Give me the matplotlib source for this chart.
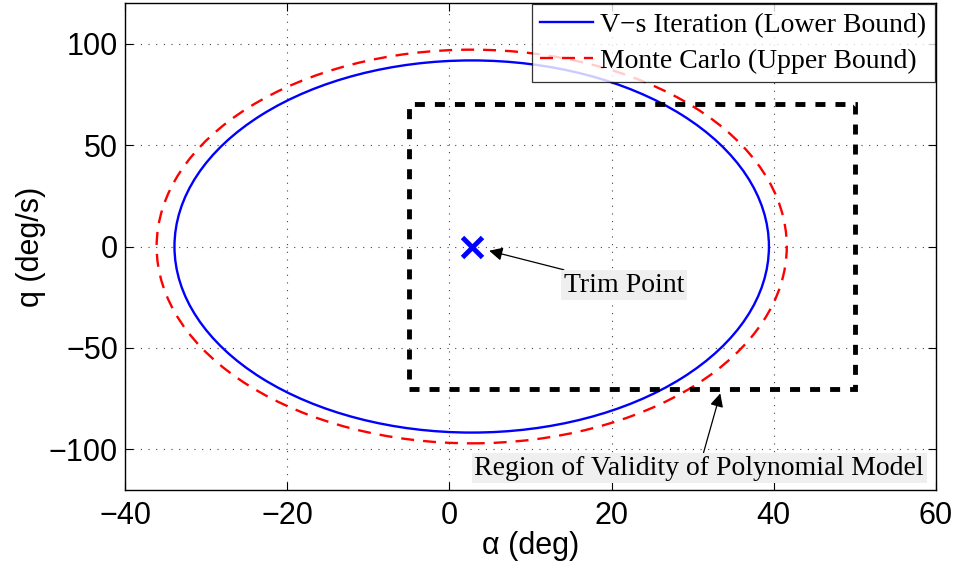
import matplotlib
matplotlib.use("Agg")
import matplotlib.pyplot as plt
from matplotlib.patches import Ellipse, Rectangle
from matplotlib.lines import Line2D

# ---- data ----
center = (2.75, 0.0)              # ellipse centre (deg, deg/s)
lower_bound_axes = (73.3, 183.4)  # full width (alpha), full height (q) of V-s iteration ellipse
upper_bound_axes = (77.7, 194.0)  # full width, full height of Monte Carlo ellipse
validity_alpha = [-5, 50]         # region of validity, alpha range
validity_q = [-70, 70]            # region of validity, q range
trim_point = (2.75, 0.0)
trim_text_pos = (21.5, -19.0)
trim_arrow_tip = (4.9, -2.1)
region_text_pos = (30.8, -109.2)
region_arrow_tip = (33.4, -72.4)

xticks = [-40, -20, 0, 20, 40, 60]
yticks = [-100, -50, 0, 50, 100]
legend_labels = ["V\u2212s Iteration (Lower Bound)", "Monte Carlo (Upper Bound)"]

sans = ["Liberation Sans", "DejaVu Sans"]
serif = ["Liberation Serif", "DejaVu Serif"]

fig = plt.figure(figsize=(9.56, 5.67), dpi=100)
ax = fig.add_axes([125/956, 1-490/567, (936-125)/956, (490-3)/567])

red_ls = (0, (5.5, 3.8))
ax.add_patch(Ellipse(center, upper_bound_axes[0], upper_bound_axes[1],
                     fill=False, edgecolor="#ff0000", lw=1.7, linestyle=red_ls, zorder=3))
ax.add_patch(Ellipse(center, lower_bound_axes[0], lower_bound_axes[1],
                     fill=False, edgecolor="#0000ff", lw=1.7, zorder=4))
ax.add_patch(Rectangle((validity_alpha[0], validity_q[0]),
                       validity_alpha[1]-validity_alpha[0], validity_q[1]-validity_q[0],
                       fill=False, edgecolor="black", lw=3.5, linestyle=(0, (2.06, 2.06)), zorder=5))
ax.plot([trim_point[0]], [trim_point[1]], marker="x", color="#0000ff",
        markersize=14, mew=3.5, linestyle="none", zorder=6)

ax.annotate("Trim Point", xy=trim_arrow_tip, xytext=trim_text_pos,
            ha="center", va="center", fontsize=20, family=serif,
            bbox=dict(boxstyle="square,pad=0.1", fc="#efefef", ec="none"),
            arrowprops=dict(arrowstyle="-|>", color="black", lw=0.9,
                            mutation_scale=20, shrinkA=0, shrinkB=0), zorder=7)
ax.annotate("Region of Validity of Polynomial Model", xy=region_arrow_tip,
            xytext=region_text_pos, ha="center", va="center", fontsize=20, family=serif,
            bbox=dict(boxstyle="square,pad=0.1", fc="#efefef", ec="none"),
            arrowprops=dict(arrowstyle="-|>", color="black", lw=0.9,
                            mutation_scale=20, shrinkA=0, shrinkB=0), zorder=7)

ax.set_xlim(-40, 60)
ax.set_ylim(-120, 120)
ax.set_xticks(xticks)
ax.set_yticks(yticks)
ax.set_xticklabels(["\u2212" + str(-t) if t < 0 else str(t) for t in xticks], family=sans)
ax.set_yticklabels(["\u2212" + str(-t) if t < 0 else str(t) for t in yticks], family=sans)
ax.tick_params(direction="in", length=6, width=0.8, labelsize=22, top=True, right=True,
               colors="black")
ax.tick_params(axis="x", pad=8)
ax.tick_params(axis="y", pad=5)
ax.grid(True, linestyle=(0, (1, 5.9)), color="#444444", lw=0.8)
ax.set_axisbelow(True)
for s in ax.spines.values():
    s.set_linewidth(1.0)

ax.set_xlabel("\u03b1 (deg)", fontsize=22, family=sans, labelpad=0)
ax.set_ylabel("q (deg/s)", fontsize=22, family=sans, labelpad=2)

handles = [Line2D([], [], color="#0000ff", lw=1.7),
           Line2D([], [], color="#ff0000", lw=1.7, linestyle=red_ls)]
leg = ax.legend(handles, legend_labels, loc="upper right", prop={"family": serif, "size": 20},
                frameon=True, fancybox=False, edgecolor="black", borderaxespad=0.05,
                handlelength=1.9, handletextpad=0.25, borderpad=0.3, labelspacing=0.36)
leg.get_frame().set_linewidth(0.9)
leg.set_zorder(10)

fig.savefig("out.png", dpi=100)
